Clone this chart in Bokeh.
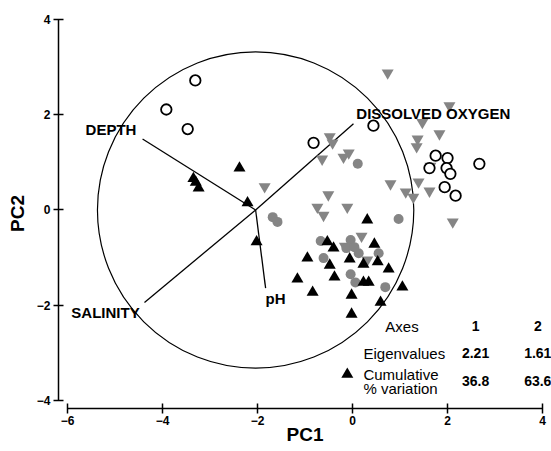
from bokeh.plotting import figure
from bokeh.models import Range1d, FixedTicker, ColumnDataSource
from bokeh.embed import file_html
from bokeh.resources import INLINE
from bokeh.core.properties import value

FONT = "Liberation Sans"

# ---- data ----
# Group 1: open circles
oc_x = [-3.31, -3.92, -3.47, 0.44, -0.82, 1.75, 2.00, 1.62, 1.98, 2.06, 2.67, 1.94, 2.17]
oc_y = [2.72, 2.11, 1.70, 1.77, 1.41, 1.14, 1.09, 0.88, 0.88, 0.76, 0.97, 0.48, 0.30]

# Group 2: grey filled circles
gc_x = [-1.68, -1.58, 0.11, 0.97, -0.67, -0.61, -0.04, -0.13, 0.04, 0.13, 0.55, -0.04, 0.06, 0.69]
gc_y = [-0.15, -0.25, 0.97, -0.19, -0.65, -1.01, -0.63, -0.80, -0.78, -0.91, -0.91, -1.35, -1.52, -1.62]

# Group 3: grey inverted triangles
gt_x = [0.74, 2.04, 1.47, 1.83, 1.37, 1.35, -0.48, -0.42, -0.08, -0.19, -0.64, 0.80,
        1.39, 1.12, 1.28, 1.62, -0.51, -0.74, -0.61, -0.11, 2.11, 1.64, -1.85, 0.19,
        -0.16, 0.31]
gt_y = [2.88, 2.19, 1.84, 1.60, 1.49, 1.33, 1.54, 1.41, 1.20, 1.11, 1.07, 0.55,
        0.59, 0.38, 0.27, 0.40, 0.32, 0.06, -0.11, 0.06, -0.25, 0.92, 0.49, -0.55,
        -0.76, -1.05]

# Group 4: black triangles
bt_x = [-2.38, -3.35, -3.30, -3.24, -2.21, -2.02, 0.31, -0.53, -0.40, -0.95, -0.48,
        -0.06, 0.46, 0.23, 0.53, -1.16, -0.38, 0.23, 0.34, 0.76, 1.05, -0.84, -0.02,
        0.59, -0.02, -0.11]
bt_y = [0.88, 0.66, 0.58, 0.46, 0.15, -0.67, -0.21, -0.67, -0.80, -1.01, -1.16,
        -1.03, -0.72, -1.14, -1.09, -1.45, -1.41, -1.52, -1.52, -1.24, -1.62, -1.73,
        -1.79, -1.94, -2.19, -3.45]

# biplot vectors (origin at circle centre)
origin_x = -2.04
origin_y = 0.0
circle_r = 3.33
vec_names = ["DEPTH", "DISSOLVED OXYGEN", "SALINITY", "pH"]
vec_end_x = [-4.42, 0.02, -4.38, -1.83]
vec_end_y = [1.49, 1.81, -1.94, -1.64]
vec_lab_x = [-5.62, 0.08, -5.92, -1.83]
vec_lab_y = [1.70, 2.02, -2.15, -1.85]

# eigen table
tbl_rows = ["Axes", "Eigenvalues", "Cumulative", "% variation"]
tbl_row_x = [0.69, 0.23, 0.23, 0.23]
tbl_row_y = [-2.44, -3.01, -3.45, -3.75]
tbl_cols = ["1", "2"]
tbl_col_x = [2.59, 3.90]
eigenvalues = ["2.21", "1.61"]
cum_var = ["36.8", "63.6"]
tbl_val_y = [-2.44, -3.01, -3.60]

x_ticks = [-6, -4, -2, 0, 2, 4]
y_ticks = [-4, -2, 0, 2, 4]

# ---- figure ----
p = figure(width=551, height=451,
           x_range=Range1d(-6.19, 4.189), y_range=Range1d(-4.168, 4.021),
           output_backend="svg", toolbar_location=None,
           min_border_left=58, min_border_right=0,
           min_border_top=18, min_border_bottom=43)
p.outline_line_color = None
p.grid.visible = False
p.background_fill_color = "white"

for ax in (p.xaxis[0], p.yaxis[0]):
    ax.axis_line_width = 1.5
    ax.axis_line_color = "black"
    ax.major_tick_line_width = 1.5
    ax.major_tick_in = 5
    ax.major_tick_out = 5
    ax.minor_tick_line_color = None
    ax.major_label_text_font = FONT
    ax.major_label_text_font_style = "bold"
    ax.major_label_text_font_size = "12px"
    ax.major_label_text_color = "black"
    ax.axis_label_text_font = FONT
    ax.axis_label_text_font_style = "bold"
    ax.axis_label_text_font_size = "19px"
    ax.axis_label_text_color = "black"

p.xaxis.bounds = (-6, 4)
p.yaxis.bounds = (-4, 4)
p.xaxis.ticker = FixedTicker(ticks=x_ticks)
p.yaxis.ticker = FixedTicker(ticks=y_ticks)
p.xaxis.axis_label = "PC1"
p.yaxis.axis_label = "PC2"
p.xaxis.major_label_standoff = 2
p.yaxis.major_label_standoff = 3
p.xaxis.axis_label_standoff = -4
p.yaxis.axis_label_standoff = 6

# circle
p.circle(x=[origin_x], y=[origin_y], radius=[circle_r], fill_color=None,
         line_color="black", line_width=1.2)

# vectors
seg = ColumnDataSource(dict(x0=[origin_x] * len(vec_end_x), y0=[origin_y] * len(vec_end_y),
                            x1=vec_end_x, y1=vec_end_y))
p.segment(x0="x0", y0="y0", x1="x1", y1="y1", source=seg, line_color="black", line_width=1.3)

# points
grey = "#858585"
p.scatter(gt_x, gt_y, marker="inverted_triangle", size=12, fill_color=grey, line_color=None)
p.scatter(gc_x, gc_y, marker="circle", size=10, fill_color=grey, line_color=None)
p.scatter(bt_x, bt_y, marker="triangle", size=12, fill_color="black", line_color=None)
p.scatter(oc_x, oc_y, marker="circle", size=10.5, fill_color="white", line_color="black",
          line_width=1.8)

# vector labels
p.text(x=vec_lab_x, y=vec_lab_y, text=vec_names, text_font=value(FONT),
       text_font_style="bold", text_font_size="15px", text_baseline="middle",
       text_align="left", text_color="black")

# table
p.text(x=tbl_row_x, y=tbl_row_y, text=tbl_rows, text_font=value(FONT),
       text_font_size="15px", text_baseline="middle", text_align="left", text_color="black")
p.text(x=tbl_col_x * 3, y=[tbl_val_y[0]] * 2 + [tbl_val_y[1]] * 2 + [tbl_val_y[2]] * 2,
       text=tbl_cols + eigenvalues + cum_var, text_font=value(FONT),
       text_font_style="bold", text_font_size="14px", text_baseline="middle",
       text_align="center", text_color="black")

open("out.html", "w").write(file_html(p, INLINE))
